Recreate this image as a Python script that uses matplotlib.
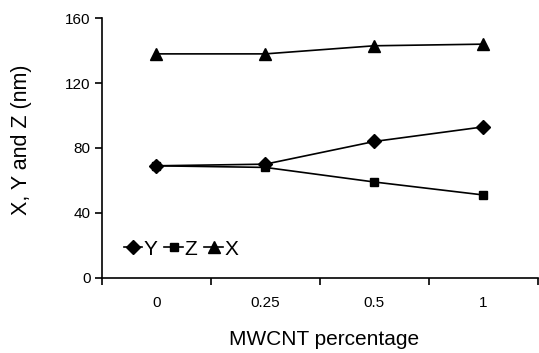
import matplotlib
matplotlib.use("Agg")
import matplotlib.pyplot as plt

plt.rcParams['font.family'] = ['Liberation Sans', 'DejaVu Sans']

categories = ["0", "0.25", "0.5", "1"]
y_vals = [69, 70, 84, 93]
z_vals = [69, 68, 59, 51]
x_vals = [138, 138, 143, 144]
y_ticks = [0, 40, 80, 120, 160]

fig = plt.figure(figsize=(5.39, 3.53), dpi=100)
ax = fig.add_axes([101.7/539, 1 - 277.7/353, (538 - 101.7)/539, (277.7 - 18.2)/353])

pos = list(range(len(categories)))
ax.plot(pos, y_vals, color='black', lw=1.2, marker='D', ms=7, label='Y')
ax.plot(pos, z_vals, color='black', lw=1.2, marker='s', ms=6, label='Z')
ax.plot(pos, x_vals, color='black', lw=1.2, marker='^', ms=9, label='X')

ax.set_xlim(-0.5, len(categories) - 0.5)
ax.set_ylim(0, 160)
ax.set_yticks(y_ticks)
ax.set_xticks([p - 0.5 for p in pos] + [len(categories) - 0.5])
ax.set_xticklabels([])
ax.set_xticks(pos, minor=True)
ax.set_xticklabels(categories, minor=True)
ax.tick_params(axis='x', which='minor', length=0, pad=13, labelsize=11)
ax.tick_params(axis='x', which='major', direction='out', length=5, width=1.2)
ax.tick_params(axis='y', direction='out', length=5, width=1.2, labelsize=11, pad=3)
for s in ['top', 'right']:
    ax.spines[s].set_visible(False)
for s in ['left', 'bottom']:
    ax.spines[s].set_linewidth(1.2)

ax.set_xlabel("MWCNT percentage", fontsize=15)
ax.xaxis.set_label_coords(0.51, -0.2)
ax.set_ylabel("X, Y and Z (nm)", fontsize=15.5)
ax.yaxis.set_label_coords(-0.16, 0.53)

ax.legend(loc='center left', bbox_to_anchor=(0.05, 0.11), ncol=3, frameon=False,
          fontsize=15, handlelength=0.9, handletextpad=0.05, columnspacing=0.35,
          borderaxespad=0, borderpad=0)

fig.savefig("out.png", dpi=100)
